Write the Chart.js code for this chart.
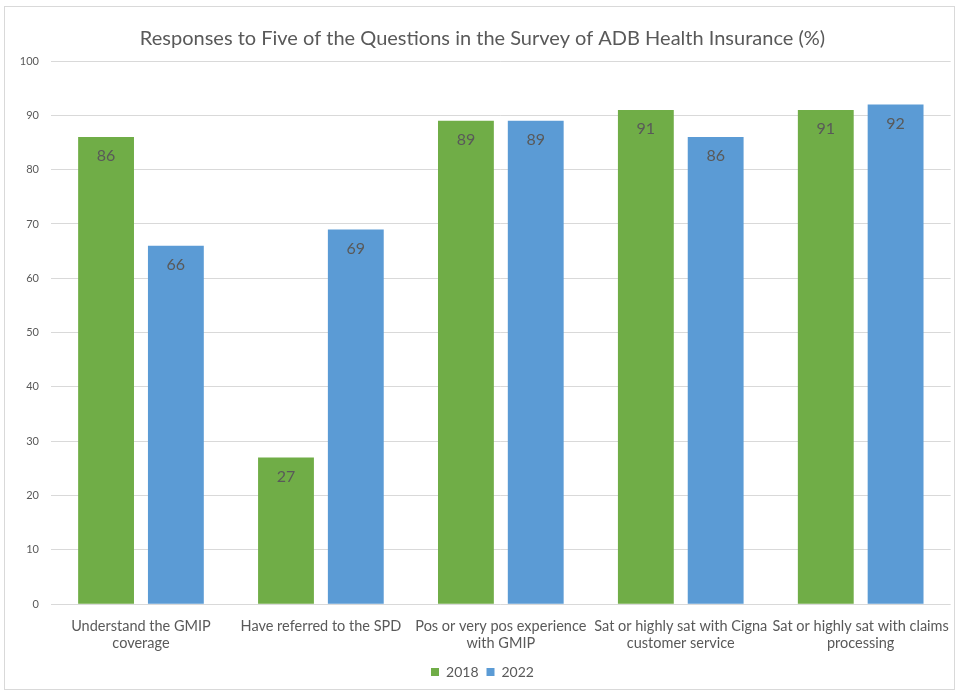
<!DOCTYPE html>
<html>
<head>
<meta charset="utf-8">
<script src="https://cdn.jsdelivr.net/npm/chart.js@4"></script>
<style>
  body { margin: 0; background: #fff; }
  #box { position: absolute; left: 4px; top: 6px; width: 949px; height: 682px; border: 1px solid #d9d9d9; }
</style>
</head>
<body>
<div id="box"><canvas id="myChart" width="949" height="682"></canvas></div>
<script>
var categories = [
    ['Understand the GMIP', 'coverage'],
    'Have referred to the SPD',
    ['Pos or very pos experience', 'with GMIP'],
    ['Sat or highly sat with Cigna', 'customer service'],
    ['Sat or highly sat with claims', 'processing']
];
var values2018 = [86, 27, 89, 91, 91];
var values2022 = [66, 69, 89, 86, 92];
var yTicks = { min: 0, max: 100, step: 10 };

var fontFamily = 'Lato, "Open Sans", sans-serif';

// values written inside the top of each bar
var barLabels = {
    id: 'barLabels',
    afterDatasetsDraw: function (chart) {
        var c = chart.ctx;
        c.save();
        c.fillStyle = '#595959';
        c.font = '16px ' + fontFamily;
        c.textAlign = 'center';
        c.textBaseline = 'middle';
        chart.data.datasets.forEach(function (ds, i) {
            chart.getDatasetMeta(i).data.forEach(function (bar, j) {
                c.fillText(ds.data[j], bar.x, bar.y + 19);
            });
        });
        c.restore();
    }
};

var chart = new Chart(document.getElementById('myChart'), {
    type: 'bar',
    data: {
        labels: categories,
        datasets: [{
            label: '2018',
            data: values2018,
            backgroundColor: '#70ad47'
        }, {
            label: '2022',
            data: values2022,
            backgroundColor: '#5b9bd5'
        }]
    },
    options: {
        responsive: false,
        animation: false,
        layout: { padding: { left: 8, right: 2, top: 0, bottom: 0 } },
        datasets: { bar: { categoryPercentage: 0.776, barPercentage: 0.8 } },
        plugins: {
            title: {
                display: true,
                text: 'Responses to Five of the Questions in the Survey of ADB Health Insurance (%)',
                color: '#595959',
                font: { family: fontFamily, size: 20, weight: 'normal' },
                padding: { top: 20, bottom: 10 }
            },
            legend: {
                position: 'bottom',
                labels: {
                    color: '#595959',
                    font: { family: fontFamily, size: 14 },
                    boxWidth: 8,
                    boxHeight: 8,
                    padding: 8
                }
            },
            tooltip: { enabled: false }
        },
        scales: {
            x: {
                grid: { display: false },
                border: { display: false },
                ticks: {
                    color: '#595959',
                    font: { family: fontFamily, size: 14.5 },
                    maxRotation: 0,
                    autoSkip: false,
                    padding: 5
                }
            },
            y: {
                min: yTicks.min,
                max: yTicks.max,
                grid: { color: '#d9d9d9', drawTicks: false },
                border: { display: false },
                ticks: {
                    stepSize: yTicks.step,
                    color: '#595959',
                    font: { family: fontFamily, size: 11 },
                    padding: 12
                },
                afterFit: function (scale) { scale.width = 38; }
            }
        }
    },
    plugins: [barLabels]
});
</script>
</body>
</html>
